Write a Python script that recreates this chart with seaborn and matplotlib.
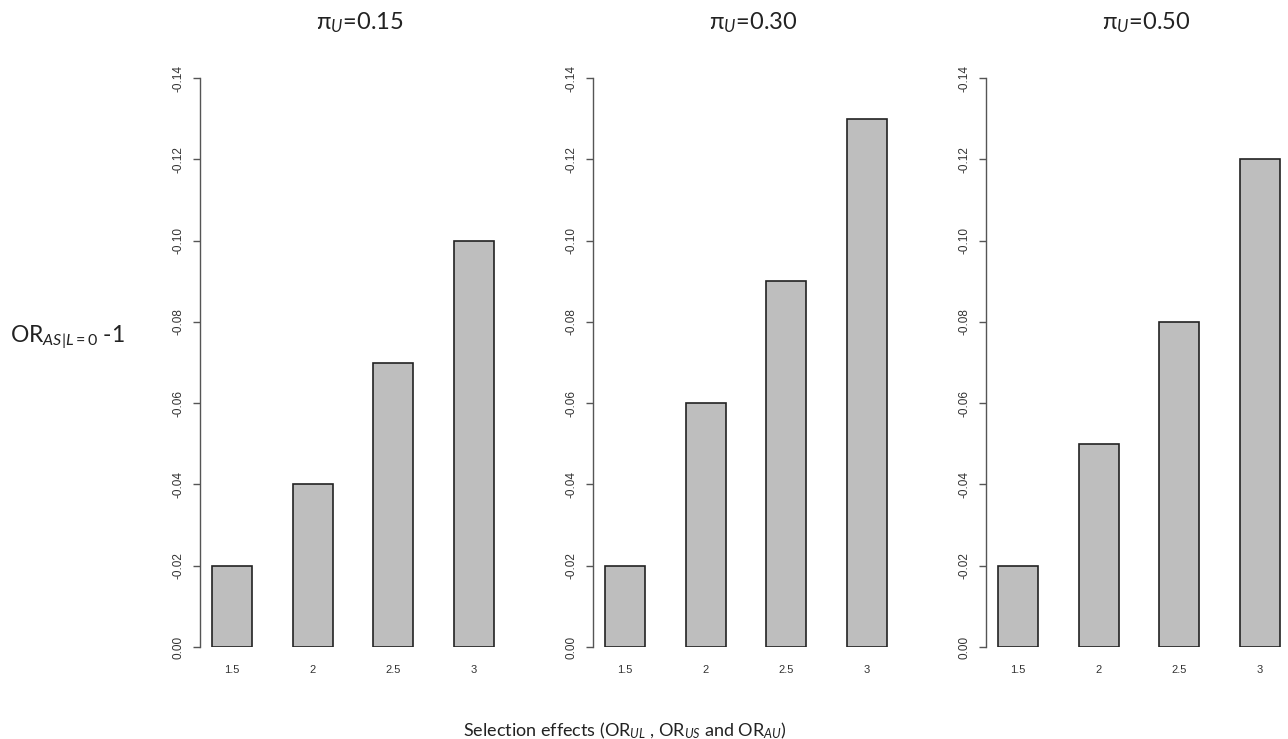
import pandas as pd
import matplotlib
matplotlib.use('Agg')
import matplotlib.pyplot as plt
import seaborn as sns

# data
x_labels = ['1.5', '2', '2.5', '3']
pi_u = ['0.15', '0.30', '0.50']
bias_015 = [0.02, 0.04, 0.07, 0.10]
bias_030 = [0.02, 0.06, 0.09, 0.13]
bias_050 = [0.02, 0.05, 0.08, 0.12]
y_ticks = [0.00, 0.02, 0.04, 0.06, 0.08, 0.10, 0.12, 0.14]
y_tick_labels = ['0.00', '-0.02', '-0.04', '-0.06', '-0.08', '-0.10', '-0.12', '-0.14']

sns.set_style('white')
plt.rcParams['font.family'] = ['Lato', 'Open Sans', 'DejaVu Sans']
plt.rcParams['mathtext.fontset'] = 'custom'
plt.rcParams['mathtext.rm'] = 'Lato'
plt.rcParams['mathtext.it'] = 'Lato:italic'

fig = plt.figure(figsize=(12.88, 7.39), dpi=100)

W, H = 1288, 739
lefts = [200, 593, 986]
ax_w = 300
bottom_px, top_px = 647, 78

panels = [bias_015, bias_030, bias_050]
for i, vals in enumerate(panels):
    ax = fig.add_axes([lefts[i] / W, (H - bottom_px) / H, ax_w / W, (bottom_px - top_px) / H])
    df = pd.DataFrame({'effect': x_labels, 'bias': vals})
    sns.barplot(data=df, x='effect', y='bias', color='#bebebe', edgecolor='#222222',
                linewidth=1.2, width=0.5, saturation=1, ax=ax)
    ax.set_xlim(-0.4, -0.4 + ax_w / 80.5)
    ax.set_ylim(0, 0.14)
    ax.set_yticks(y_ticks)
    ax.set_yticklabels(y_tick_labels, rotation=90, va='center', fontsize=8.5,
                       color='#333333', family='Liberation Sans')
    ax.set_xticks(range(len(x_labels)))
    ax.set_xticklabels(x_labels, fontsize=8, color='#333333', family='Liberation Sans')
    ax.tick_params(axis='y', length=5, width=1, color='#555555', pad=6, left=True)
    ax.tick_params(axis='x', length=0, pad=13)
    for s in ['top', 'right', 'bottom']:
        ax.spines[s].set_visible(False)
    ax.spines['left'].set_color('#555555')
    ax.spines['left'].set_linewidth(1)
    ax.set_xlabel('')
    ax.set_ylabel('')
    ax.text(1.59, (H - 29 - (H - bottom_px)) / (bottom_px - top_px),
            r'π$_{\mathit{U}}$=' + pi_u[i], transform=ax.get_xaxis_transform(),
            ha='center', va='baseline', fontsize=17, color='#222222')

fig.text(10 / W, (H - 342) / H, r'OR$_{\mathit{AS|L=0}}$ -1', ha='left', va='baseline',
         fontsize=16.5, color='#222222')
fig.text(625 / W, (H - 736) / H,
         r'Selection effects (OR$_{\mathit{UL}}$ , OR$_{\mathit{US}}$ and OR$_{\mathit{AU}}$)',
         ha='center', va='baseline', fontsize=13, color='#222222')

fig.savefig('out.png', dpi=100)
